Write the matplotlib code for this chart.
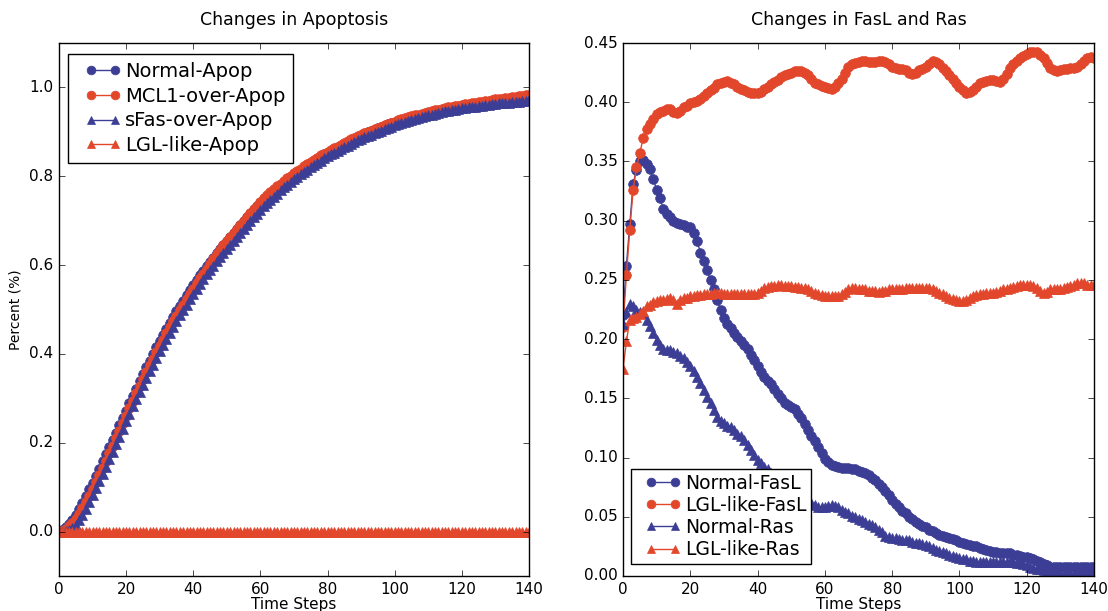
import matplotlib
matplotlib.use("Agg")
import matplotlib.pyplot as plt
from matplotlib.lines import Line2D
from matplotlib.legend_handler import HandlerLine2D

plt.style.use("classic")
plt.rcParams["font.family"] = ["DejaVu Sans"]

time_steps = list(range(141))

normal_apop = [
    0.000,0.004,0.010,0.018,0.027,0.038,0.050,0.064,0.079,0.095,
    0.110,0.126,0.142,0.158,0.174,0.190,0.206,0.222,0.239,0.256,
    0.272,0.289,0.306,0.322,0.338,0.354,0.370,0.385,0.400,0.415,
    0.429,0.443,0.457,0.470,0.483,0.496,0.508,0.520,0.532,0.544,
    0.555,0.566,0.577,0.587,0.597,0.607,0.617,0.627,0.636,0.645,
    0.654,0.663,0.672,0.681,0.690,0.699,0.708,0.716,0.724,0.732,
    0.740,0.748,0.755,0.762,0.768,0.774,0.780,0.786,0.792,0.798,
    0.804,0.809,0.814,0.819,0.824,0.829,0.834,0.839,0.844,0.849,
    0.853,0.857,0.861,0.865,0.869,0.873,0.877,0.881,0.885,0.889,
    0.893,0.896,0.899,0.902,0.905,0.908,0.911,0.914,0.917,0.919,
    0.921,0.923,0.925,0.927,0.929,0.931,0.933,0.935,0.937,0.939,
    0.941,0.943,0.944,0.946,0.947,0.949,0.950,0.951,0.953,0.954,
    0.955,0.956,0.957,0.958,0.959,0.960,0.961,0.962,0.963,0.964,
    0.965,0.966,0.966,0.967,0.968,0.968,0.969,0.970,0.970,0.971,
    0.972]

mcl1_over_apop = [
    0.000,0.002,0.006,0.012,0.020,0.029,0.040,0.052,0.066,0.081,
    0.096,0.112,0.128,0.144,0.160,0.176,0.193,0.210,0.227,0.244,
    0.261,0.278,0.295,0.311,0.327,0.343,0.359,0.374,0.389,0.404,
    0.418,0.432,0.446,0.460,0.473,0.486,0.499,0.511,0.523,0.535,
    0.547,0.559,0.570,0.581,0.592,0.603,0.614,0.625,0.635,0.645,
    0.655,0.664,0.673,0.682,0.691,0.700,0.709,0.718,0.726,0.734,
    0.742,0.750,0.757,0.764,0.771,0.777,0.783,0.789,0.795,0.801,
    0.807,0.812,0.817,0.822,0.827,0.832,0.837,0.842,0.847,0.851,
    0.855,0.859,0.863,0.867,0.871,0.875,0.879,0.883,0.887,0.891,
    0.894,0.897,0.900,0.903,0.906,0.909,0.912,0.915,0.918,0.921,
    0.923,0.926,0.928,0.931,0.933,0.935,0.937,0.939,0.941,0.943,
    0.945,0.947,0.949,0.950,0.952,0.953,0.955,0.956,0.958,0.959,
    0.960,0.962,0.963,0.964,0.966,0.967,0.968,0.969,0.970,0.972,
    0.973,0.974,0.975,0.976,0.977,0.978,0.979,0.980,0.981,0.982,
    0.983]

sfas_over_apop = [
    0.000,0.000,0.001,0.003,0.008,0.015,0.025,0.037,0.051,0.066,
    0.082,0.098,0.114,0.130,0.146,0.163,0.180,0.197,0.214,0.231,
    0.248,0.265,0.282,0.298,0.314,0.330,0.346,0.361,0.376,0.391,
    0.406,0.420,0.434,0.448,0.461,0.474,0.487,0.499,0.511,0.523,
    0.535,0.546,0.557,0.568,0.579,0.589,0.599,0.609,0.619,0.628,
    0.637,0.646,0.655,0.664,0.673,0.682,0.691,0.700,0.708,0.716,
    0.724,0.732,0.740,0.747,0.754,0.761,0.768,0.775,0.781,0.787,
    0.793,0.799,0.805,0.810,0.815,0.820,0.825,0.830,0.835,0.840,
    0.845,0.849,0.853,0.857,0.861,0.865,0.869,0.873,0.877,0.881,
    0.885,0.888,0.891,0.894,0.897,0.900,0.903,0.906,0.909,0.912,
    0.915,0.917,0.920,0.922,0.925,0.927,0.929,0.931,0.933,0.935,
    0.937,0.939,0.941,0.943,0.944,0.946,0.947,0.949,0.950,0.952,
    0.953,0.954,0.955,0.956,0.957,0.958,0.959,0.960,0.961,0.962,
    0.963,0.964,0.965,0.966,0.966,0.967,0.968,0.968,0.969,0.970,
    0.971]

lgl_like_apop = [0.0] * 141

normal_fasl = [
    0.220,0.262,0.297,0.331,0.343,0.350,0.351,0.348,0.344,0.335,
    0.326,0.319,0.310,0.306,0.303,0.300,0.298,0.297,0.296,0.295,
    0.295,0.290,0.283,0.273,0.266,0.258,0.250,0.242,0.233,0.225,
    0.218,0.213,0.209,0.205,0.202,0.198,0.195,0.192,0.187,0.182,
    0.177,0.172,0.168,0.165,0.162,0.158,0.154,0.150,0.146,0.144,
    0.143,0.141,0.137,0.133,0.128,0.123,0.118,0.114,0.109,0.104,
    0.099,0.096,0.094,0.093,0.092,0.091,0.091,0.091,0.090,0.090,
    0.089,0.088,0.087,0.085,0.083,0.081,0.078,0.075,0.072,0.068,
    0.064,0.061,0.058,0.055,0.053,0.050,0.048,0.046,0.044,0.042,
    0.041,0.039,0.038,0.036,0.035,0.034,0.033,0.032,0.031,0.030,
    0.029,0.028,0.027,0.026,0.025,0.025,0.024,0.023,0.022,0.021,
    0.020,0.020,0.019,0.019,0.019,0.019,0.018,0.018,0.017,0.016,
    0.016,0.015,0.014,0.013,0.012,0.010,0.009,0.008,0.008,0.008,
    0.008,0.008,0.008,0.008,0.008,0.008,0.008,0.008,0.008,0.008,
    0.008]

lgl_like_fasl = [
    0.210,0.254,0.292,0.326,0.345,0.357,0.370,0.377,0.382,0.386,
    0.390,0.392,0.393,0.394,0.394,0.392,0.391,0.393,0.396,0.397,
    0.399,0.400,0.401,0.403,0.405,0.408,0.410,0.412,0.415,0.416,
    0.417,0.418,0.416,0.415,0.413,0.411,0.410,0.409,0.408,0.408,
    0.408,0.409,0.411,0.413,0.415,0.417,0.419,0.421,0.423,0.424,
    0.425,0.426,0.426,0.426,0.425,0.423,0.420,0.416,0.415,0.414,
    0.413,0.412,0.411,0.413,0.416,0.420,0.425,0.430,0.432,0.433,
    0.434,0.435,0.435,0.434,0.434,0.434,0.435,0.435,0.434,0.432,
    0.430,0.429,0.428,0.428,0.427,0.425,0.424,0.425,0.427,0.428,
    0.430,0.432,0.435,0.434,0.432,0.429,0.426,0.423,0.420,0.416,
    0.413,0.410,0.408,0.409,0.410,0.413,0.416,0.417,0.418,0.419,
    0.419,0.418,0.417,0.420,0.424,0.429,0.432,0.435,0.437,0.439,
    0.441,0.442,0.442,0.442,0.440,0.437,0.433,0.429,0.427,0.426,
    0.427,0.428,0.428,0.429,0.429,0.430,0.432,0.435,0.437,0.438,
    0.437]

normal_ras = [
    0.213,0.223,0.230,0.228,0.225,0.223,0.222,0.216,0.211,0.205,
    0.199,0.195,0.192,0.191,0.191,0.189,0.188,0.186,0.184,0.181,
    0.177,0.173,0.168,0.163,0.157,0.151,0.146,0.140,0.134,0.131,
    0.129,0.127,0.126,0.123,0.120,0.118,0.115,0.111,0.106,0.102,
    0.098,0.095,0.092,0.090,0.087,0.085,0.082,0.080,0.078,0.076,
    0.074,0.072,0.070,0.068,0.066,0.064,0.062,0.060,0.058,0.058,
    0.058,0.059,0.060,0.059,0.058,0.056,0.054,0.053,0.051,0.050,
    0.048,0.047,0.046,0.044,0.043,0.041,0.039,0.037,0.034,0.033,
    0.032,0.032,0.031,0.030,0.030,0.030,0.029,0.028,0.028,0.027,
    0.026,0.025,0.024,0.022,0.021,0.020,0.019,0.018,0.017,0.016,
    0.015,0.014,0.014,0.013,0.013,0.012,0.012,0.012,0.012,0.012,
    0.012,0.012,0.012,0.012,0.012,0.012,0.012,0.011,0.011,0.010,
    0.009,0.008,0.007,0.006,0.006,0.005,0.004,0.003,0.003,0.002,
    0.002,0.002,0.002,0.002,0.002,0.002,0.003,0.003,0.004,0.004,
    0.005]

lgl_like_ras = [
    0.175,0.198,0.216,0.218,0.219,0.221,0.224,0.228,0.229,0.231,
    0.232,0.233,0.233,0.234,0.235,0.233,0.230,0.233,0.235,0.235,
    0.236,0.236,0.237,0.237,0.238,0.238,0.238,0.239,0.239,0.239,
    0.238,0.238,0.238,0.238,0.238,0.238,0.238,0.238,0.238,0.238,
    0.239,0.241,0.243,0.244,0.245,0.245,0.246,0.246,0.245,0.245,
    0.245,0.244,0.244,0.243,0.243,0.242,0.241,0.239,0.238,0.237,
    0.236,0.236,0.236,0.236,0.236,0.238,0.240,0.242,0.243,0.243,
    0.242,0.242,0.242,0.241,0.241,0.241,0.240,0.241,0.241,0.242,
    0.242,0.242,0.242,0.242,0.243,0.243,0.243,0.243,0.243,0.243,
    0.243,0.243,0.242,0.241,0.239,0.238,0.236,0.235,0.234,0.233,
    0.232,0.232,0.233,0.235,0.236,0.237,0.238,0.238,0.239,0.239,
    0.239,0.240,0.241,0.242,0.242,0.243,0.244,0.245,0.246,0.246,
    0.246,0.246,0.245,0.243,0.241,0.239,0.240,0.242,0.242,0.242,
    0.242,0.243,0.244,0.245,0.246,0.247,0.247,0.247,0.246,0.246,
    0.246]

BLUE = "#3c3e96"
RED = "#e2472c"

fig = plt.figure(figsize=(11.08, 6.11), dpi=100, facecolor="white")
ax1 = fig.add_axes([0.0532, 0.0573, 0.4242, 0.8723])
ax2 = fig.add_axes([0.5623, 0.0573, 0.4251, 0.8723])
for ax in (ax1, ax2):
    ax.set_facecolor("white")

ms = 7
ax1.plot(time_steps, normal_apop, "-o", color=BLUE, mec=BLUE, ms=ms, lw=1, label="Normal-Apop")
ax1.plot(time_steps, mcl1_over_apop, "-o", color=RED, mec=RED, ms=ms, lw=1, label="MCL1-over-Apop")
ax1.plot(time_steps, sfas_over_apop, "-^", color=BLUE, mec=BLUE, ms=ms, lw=1, label="sFas-over-Apop")
ax1.plot(time_steps, lgl_like_apop, "-^", color=RED, mec=RED, ms=ms, lw=1, label="LGL-like-Apop")
ax1.set_xlim(0, 140)
ax1.set_ylim(-0.1, 1.1)
ax1.set_xticks([0, 20, 40, 60, 80, 100, 120, 140])
ax1.set_yticks([0.0, 0.2, 0.4, 0.6, 0.8, 1.0])
ax1.set_title("Changes in Apoptosis", fontsize=12.5, pad=13)
ax1.set_xlabel("Time Steps", fontsize=11, labelpad=0)
ax1.set_ylabel("Percent (%)", fontsize=10)
ax1.tick_params(labelsize=11)
ax1.legend(loc="upper left", bbox_to_anchor=(9 / 470, 1 - 11 / 533), borderaxespad=0,
           numpoints=2, fontsize=14, fancybox=False,
           handlelength=2.8, borderpad=0.4, labelspacing=0.3, handletextpad=-0.26,
           markerscale=0.9, handler_map={Line2D: HandlerLine2D(marker_pad=0.78)})

ax2.plot(time_steps, normal_fasl, "-o", color=BLUE, mec=BLUE, ms=ms, lw=1, label="Normal-FasL")
ax2.plot(time_steps, lgl_like_fasl, "-o", color=RED, mec=RED, ms=ms, lw=1, label="LGL-like-FasL")
ax2.plot(time_steps, normal_ras, "-^", color=BLUE, mec=BLUE, ms=ms, lw=1, label="Normal-Ras")
ax2.plot(time_steps, lgl_like_ras, "-^", color=RED, mec=RED, ms=ms, lw=1, label="LGL-like-Ras")
ax2.set_xlim(0, 140)
ax2.set_ylim(0.0, 0.45)
ax2.set_xticks([0, 20, 40, 60, 80, 100, 120, 140])
ax2.set_yticks([0.0, 0.05, 0.10, 0.15, 0.20, 0.25, 0.30, 0.35, 0.40, 0.45])
ax2.yaxis.set_major_formatter(matplotlib.ticker.FormatStrFormatter("%.2f"))
ax2.set_title("Changes in FasL and Ras", fontsize=12.5, pad=13)
ax2.set_xlabel("Time Steps", fontsize=11, labelpad=0)
ax2.tick_params(labelsize=11)
ax2.legend(loc="lower left", bbox_to_anchor=(8 / 471, 12 / 533), borderaxespad=0,
           numpoints=2, fontsize=13.5, fancybox=False,
           handlelength=2.88, borderpad=0.26, labelspacing=0.165, handletextpad=-0.27,
           markerscale=0.9, handler_map={Line2D: HandlerLine2D(marker_pad=0.8)})

fig.savefig("out.png", dpi=100, facecolor="white")
